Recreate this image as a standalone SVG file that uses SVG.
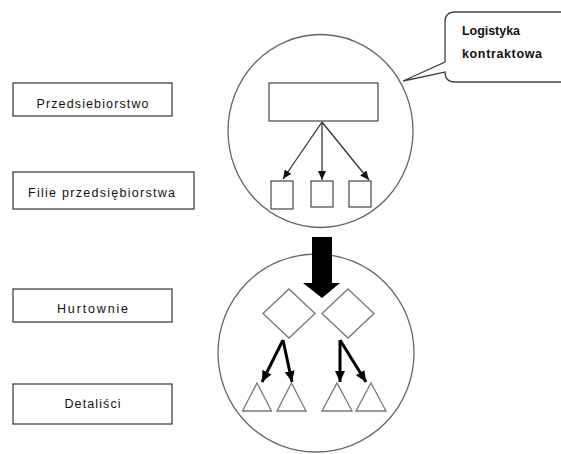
<svg xmlns="http://www.w3.org/2000/svg" width="561" height="454" viewBox="0 0 561 454">
<style>
.box{fill:#fff;stroke:#333;stroke-width:1.2}
.lbl{font-family:"Liberation Sans",Arial,sans-serif;font-size:12.5px;fill:#111;text-anchor:middle}
.circ{fill:#fff;stroke:#666;stroke-width:1.3}
.shp{fill:#fff;stroke:#444;stroke-width:1.2}
.gshp{fill:#fff;stroke:#777;stroke-width:1.3}
.thin{stroke:#333;stroke-width:1.3;fill:none;marker-end:url(#ah)}
.thick{stroke:#000;stroke-width:3;fill:none;marker-end:url(#ahb)}
.bold{font-family:"Liberation Sans",Arial,sans-serif;font-size:12.5px;font-weight:bold;fill:#111}
</style>
<defs>
<marker id="ah" markerWidth="9" markerHeight="8" refX="9" refY="4" orient="auto" markerUnits="userSpaceOnUse">
<path d="M0,0 L9,4 L0,8 Z" fill="#111"/>
</marker>
<marker id="ahb" markerWidth="11" markerHeight="10" refX="11" refY="5" orient="auto" markerUnits="userSpaceOnUse">
<path d="M0,0 L11,5 L0,10 Z" fill="#000"/>
</marker>
</defs>
<rect width="561" height="454" fill="#fff"/>

<g id="label-przedsiebiorstwo">
<rect class="box" x="13" y="83" width="159" height="33"/>
<text class="lbl" x="92.5" y="108" textLength="112" lengthAdjust="spacing">Przedsiebiorstwo</text>
</g>
<g id="label-filie">
<rect class="box" x="13" y="172" width="181" height="37"/>
<text class="lbl" x="101.5" y="197" textLength="147" lengthAdjust="spacing">Filie przedsiębiorstwa</text>
</g>
<g id="label-hurtownie">
<rect class="box" x="13" y="289" width="159" height="33"/>
<text class="lbl" x="92.5" y="313" textLength="71" lengthAdjust="spacing">Hurtownie</text>
</g>
<g id="label-detalisci">
<rect class="box" x="13" y="384" width="159" height="40"/>
<text class="lbl" x="92.5" y="408" textLength="56" lengthAdjust="spacing">Detaliści</text>
</g>

<g id="callout">
<path d="M455,12 H575 V82 H455 Q445,82 445,72 L403,81 L445,62 V22 Q445,12 455,12 Z" fill="#fff" stroke="#444" stroke-width="1.3"/>
<text class="bold" x="462" y="35" textLength="58" lengthAdjust="spacing">Logistyka</text>
<text class="bold" x="462" y="58" textLength="80" lengthAdjust="spacing">kontraktowa</text>
</g>

<g id="top-circle">
<ellipse class="circ" cx="320.5" cy="131" rx="92.5" ry="96.5"/>
<rect class="shp" x="269" y="83" width="109" height="38"/>
<rect class="shp" x="271" y="181" width="22" height="28"/>
<rect class="shp" x="311" y="181" width="22" height="26"/>
<rect class="shp" x="349" y="181" width="22" height="26"/>
</g>

<g id="bottom-circle">
<ellipse class="circ" cx="316" cy="353" rx="98" ry="99"/>
<polygon class="gshp" points="289,289 315,313.5 289,338 263,313.5"/>
<polygon class="gshp" points="348,289 374,313.5 348,338 322,313.5"/>
<polygon class="gshp" points="257,383 271.5,411 242.5,411"/>
<polygon class="gshp" points="291.5,383 306,411 277,411"/>
<polygon class="gshp" points="337,383 352,411 322,411"/>
<polygon class="gshp" points="371,383 386,411 356,411"/>
</g>

<g id="connectors">
<line class="thin" x1="322" y1="122" x2="283" y2="179"/>
<line class="thin" x1="322" y1="122" x2="322" y2="180"/>
<line class="thin" x1="322" y1="122" x2="369" y2="180"/>
<path d="M312,237 H332 V283 H340 L322,298 L303,283 H312 Z" fill="#000"/>
<line class="thick" x1="283" y1="340" x2="262" y2="382"/>
<line class="thick" x1="283" y1="340" x2="292" y2="382"/>
<line class="thick" x1="340" y1="340" x2="340" y2="382"/>
<line class="thick" x1="340" y1="340" x2="366" y2="382"/>
</g>
</svg>
